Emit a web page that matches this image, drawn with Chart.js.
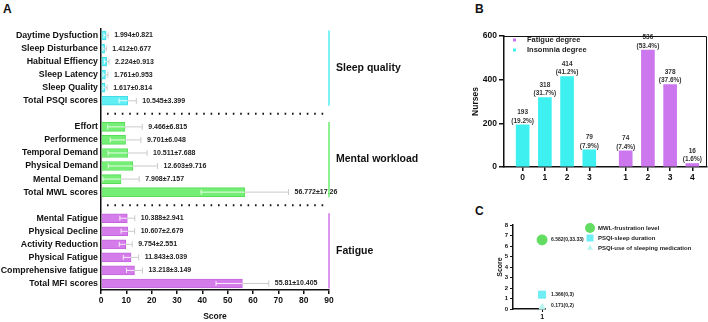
<!DOCTYPE html>
<html>
<head>
<meta charset="utf-8">
<script src="https://cdn.jsdelivr.net/npm/chart.js@4.4.1/dist/chart.umd.min.js"></script>
<style>
  body { margin: 0; width: 708px; height: 322px; position: relative; background: #fff; overflow: hidden;
         font-family: "Liberation Sans", Arial, sans-serif; }
  canvas { position: absolute; }
  .tag { position: absolute; font-weight: bold; font-size: 12px; line-height: 12px; color: #111; }
</style>
</head>
<body>
<div class="tag" style="left:3px;top:3px">A</div>
<div class="tag" style="left:475px;top:3px">B</div>
<div class="tag" style="left:475px;top:205px">C</div>
<canvas id="chartA" width="430" height="322" style="left:0;top:0"></canvas>
<canvas id="chartB" width="268" height="200" style="left:440px;top:0"></canvas>
<canvas id="chartC" width="248" height="112" style="left:460px;top:210px"></canvas>
<script>
// ---- panel A: scale scores (mean ± sd) ----
const sleepItems = ['Daytime Dysfuction', 'Sleep Disturbance', 'Habitual Effiency', 'Sleep Latency', 'Sleep Quality', 'Total PSQI scores'];
const sleepMeans = [1.994, 1.412, 2.224, 1.761, 1.617, 10.545];
const sleepSds = [0.821, 0.677, 0.913, 0.953, 0.814, 3.399];

const workloadItems = ['Effort', 'Performence', 'Temporal Demand', 'Physical Demand', 'Mental Demand', 'Total MWL scores'];
const workloadMeans = [9.466, 9.701, 10.511, 12.603, 7.908, 56.772];
const workloadSds = [6.815, 6.048, 7.688, 9.716, 7.157, 17.26];

const fatigueItems = ['Mental Fatigue', 'Physical Decline', 'Activity Reduction', 'Physical Fatigue', 'Comprehensive fatigue', 'Total MFI scores'];
const fatigueMeans = [10.388, 10.607, 9.754, 11.843, 13.218, 55.81];
const fatigueSds = [2.941, 2.679, 2.551, 3.039, 3.149, 10.405];

const groupNames = ['Sleep quality', 'Mental workload', 'Fatigue'];
const scoreTicksMax = 90;

// ---- panel B: degree counts ----
const insomniaDegrees = ['0', '1', '2', '3'];
const insomniaCounts = [193, 318, 414, 79];
const insomniaPct = ['19.2%', '31.7%', '41.2%', '7.9%'];
const fatigueDegrees = ['1', '2', '3', '4'];
const fatigueCounts = [74, 536, 378, 16];
const fatiguePct = ['7.4%', '53.4%', '37.6%', '1.6%'];

// ---- panel C: single item scores ----
const itemNames = ['MWL-frustration level', 'PSQI-sleep duration', 'PSQI-use of sleeping medication'];
const itemScores = [6.582, 1.366, 0.171];
const itemRanges = ['(0,33.33)', '(0,3)', '(0,2)'];

const FONT = "'Liberation Sans', Arial, sans-serif";
Chart.defaults.font.family = FONT;
Chart.defaults.color = '#111';

const cyan = '#5eeef4', green = '#74ee74', violet = '#d47ce9';
const groupColors = [cyan, green, violet];
const groupBorders = ['#40dde6', '#58dd58', '#c464dd'];

// rows with one empty slot between groups
const rowLabels = [...sleepItems, '', ...workloadItems, '', ...fatigueItems];
const rowMeans = [...sleepMeans, null, ...workloadMeans, null, ...fatigueMeans];
const rowSds = [...sleepSds, null, ...workloadSds, null, ...fatigueSds];
const rowGroup = [...sleepItems.map(() => 0), -1, ...workloadItems.map(() => 1), -1, ...fatigueItems.map(() => 2)];

const panelAExtras = {
  id: 'panelAExtras',
  afterDatasetsDraw(chart) {
    const { ctx, chartArea, scales: { x, y } } = chart;
    ctx.save();
    rowMeans.forEach((m, i) => {
      const py = y.getPixelForValue(i);
      if (m === null) {
        ctx.strokeStyle = '#111';
        ctx.lineWidth = 2;
        ctx.setLineDash([1.6, 5.8]);
        ctx.beginPath();
        ctx.moveTo(chartArea.left + 6, py);
        ctx.lineTo(chartArea.right, py);
        ctx.stroke();
        ctx.setLineDash([]);
        return;
      }
      const sd = rowSds[i];
      const xb = x.getPixelForValue(m);
      const x0 = x.getPixelForValue(Math.max(m - sd, 0));
      const x1 = x.getPixelForValue(m + sd);
      ctx.lineWidth = 1;
      ctx.strokeStyle = 'rgba(255,255,255,0.85)';
      ctx.beginPath();
      ctx.moveTo(x0, py); ctx.lineTo(xb, py);
      if (m - sd > 0) { ctx.moveTo(x0, py - 2.5); ctx.lineTo(x0, py + 2.5); }
      ctx.stroke();
      ctx.strokeStyle = '#cacaca';
      ctx.beginPath();
      ctx.moveTo(xb, py); ctx.lineTo(x1, py);
      ctx.moveTo(x1, py - 3); ctx.lineTo(x1, py + 3);
      ctx.stroke();
      ctx.fillStyle = '#222';
      ctx.font = 'bold 7px ' + FONT;
      ctx.textBaseline = 'middle';
      ctx.textAlign = 'left';
      ctx.fillText(`${m}±${sd}`, x1 + 6, py);
    });
    groupNames.forEach((name, g) => {
      const idx = rowGroup.map((v, i) => (v === g ? i : -1)).filter((i) => i >= 0);
      const top = y.getPixelForValue(idx[0]) - 5;
      const bot = y.getPixelForValue(idx[idx.length - 1]) + 5;
      ctx.strokeStyle = groupColors[g];
      ctx.lineWidth = 1.6;
      ctx.beginPath();
      ctx.moveTo(chartArea.right, top);
      ctx.lineTo(chartArea.right, bot);
      ctx.stroke();
      ctx.fillStyle = '#111';
      ctx.font = 'bold 10.5px ' + FONT;
      ctx.textBaseline = 'middle';
      ctx.fillText(name, chartArea.right + 7, (top + bot) / 2);
    });
    ctx.restore();
  }
};

new Chart(document.getElementById('chartA'), {
  type: 'bar',
  data: {
    labels: rowLabels,
    datasets: [{
      data: rowMeans,
      backgroundColor: rowGroup.map((g) => (g < 0 ? 'transparent' : groupColors[g])),
      borderColor: rowGroup.map((g) => (g < 0 ? 'transparent' : groupBorders[g])),
      borderWidth: 1,
      barThickness: 9
    }]
  },
  options: {
    indexAxis: 'y',
    responsive: false,
    animation: false,
    layout: { padding: { top: 29, right: 101, left: 0, bottom: 0 } },
    plugins: { legend: { display: false }, tooltip: { enabled: false } },
    scales: {
      x: {
        min: 0,
        max: scoreTicksMax,
        ticks: { stepSize: 10, font: { size: 8.5, weight: 'bold' }, color: '#111', padding: 2 },
        grid: { display: true, drawOnChartArea: false, drawTicks: true, tickLength: 4, color: '#111', lineWidth: 1.5 },
        border: { display: true, color: '#111', width: 1.5 },
        title: { display: true, text: 'Score', font: { size: 8.5, weight: 'bold' }, color: '#111', padding: { top: 0, bottom: 0 } },
        afterFit(s) { s.height = 32; }
      },
      y: {
        grid: { display: false, drawTicks: false },
        border: { display: true, color: '#111', width: 1.5 },
        ticks: { font: { size: 8.8, weight: 'bold' }, color: '#111', padding: 3, autoSkip: false },
        afterFit(s) { s.width = 101; }
      }
    }
  },
  plugins: [panelAExtras]
});

// ---- panel B ----
const insomniaX = [0, 1, 2, 3];
const fatigueX = [4.64, 5.64, 6.64, 7.64];
const bTickPositions = [...insomniaX, ...fatigueX];
const bTickLabels = [...insomniaDegrees, ...fatigueDegrees];

const panelBExtras = {
  id: 'panelBExtras',
  afterDatasetsDraw(chart) {
    const { ctx, chartArea } = chart;
    ctx.save();
    const pctLists = [fatiguePct, insomniaPct];
    chart.data.datasets.forEach((ds, d) => {
      chart.getDatasetMeta(d).data.forEach((el, j) => {
        ctx.fillStyle = '#333';
        ctx.font = '600 6.5px ' + FONT;
        ctx.textAlign = 'center';
        ctx.textBaseline = 'middle';
        ctx.fillText(String(ds.data[j].y), el.x, el.y - 12.5);
        ctx.fillText('(' + pctLists[d][j] + ')', el.x, el.y - 4);
      });
    });
    // box around plot
    ctx.strokeStyle = '#111';
    ctx.lineWidth = 1;
    ctx.beginPath();
    ctx.moveTo(chartArea.left, chartArea.top + 0.5);
    ctx.lineTo(chartArea.right - 0.5, chartArea.top + 0.5);
    ctx.lineTo(chartArea.right - 0.5, chartArea.bottom);
    ctx.stroke();
    // legend
    chart.data.datasets.forEach((ds, d) => {
      const ly = chartArea.top + 4 + d * 10;
      ctx.fillStyle = ds.backgroundColor;
      ctx.fillRect(chartArea.left + 9, ly - 1.5, 3, 3);
      ctx.fillStyle = '#222';
      ctx.font = 'bold 7.5px ' + FONT;
      ctx.textAlign = 'left';
      ctx.textBaseline = 'middle';
      ctx.fillText(ds.label, chartArea.left + 23, ly);
    });
    ctx.restore();
  }
};

new Chart(document.getElementById('chartB'), {
  type: 'bar',
  data: {
    datasets: [
      { label: 'Fatigue degree', data: fatigueX.map((x, i) => ({ x, y: fatigueCounts[i] })), backgroundColor: '#cc77ee', barThickness: 13, grouped: false },
      { label: 'Insomnia degree', data: insomniaX.map((x, i) => ({ x, y: insomniaCounts[i] })), backgroundColor: '#3ff0f0', barThickness: 13, grouped: false }
    ]
  },
  options: {
    responsive: false,
    animation: false,
    layout: { padding: { top: 36, right: 1, left: 0, bottom: 0 } },
    plugins: { legend: { display: false }, tooltip: { enabled: false } },
    scales: {
      x: {
        type: 'linear',
        min: -0.84,
        max: 8.3,
        offset: false,
        afterBuildTicks(s) { s.ticks = bTickPositions.map((v) => ({ value: v })); },
        ticks: { callback: (v, i) => bTickLabels[i], font: { size: 8.5, weight: 'bold' }, color: '#111', padding: 2, autoSkip: false, maxRotation: 0 },
        grid: { display: true, offset: false, drawOnChartArea: false, tickLength: 4, color: '#111', lineWidth: 1.5 },
        border: { display: true, color: '#111', width: 1.5 },
        afterFit(s) { s.height = 33; }
      },
      y: {
        min: 0,
        max: 600,
        ticks: { stepSize: 200, font: { size: 8.5, weight: 'bold' }, color: '#111', padding: 2 },
        grid: { display: true, drawOnChartArea: false, tickLength: 5, color: '#111', lineWidth: 1.5 },
        border: { display: true, color: '#111', width: 1.5 },
        title: { display: true, text: 'Nurses', font: { size: 8.5, weight: 'bold' }, color: '#111', padding: { top: 31, bottom: 0 } },
        afterFit(s) { s.width = 64; }
      }
    }
  },
  plugins: [panelBExtras]
});

// ---- panel C ----
const cColors = ['#62dd62', '#6eeef4', '#b8f4f0'];
const cStyles = ['circle', 'rect', 'triangle'];
const cRadius = [5, 5, 3.5];

function drawMarker(ctx, style, x, y, r, color) {
  ctx.fillStyle = color;
  ctx.beginPath();
  if (style === 'circle') ctx.arc(x, y, r, 0, Math.PI * 2);
  else if (style === 'rect') ctx.rect(x - r * 0.7, y - r * 0.7, r * 1.4, r * 1.4);
  else { ctx.moveTo(x, y - r); ctx.lineTo(x + r * 0.87, y + r * 0.5); ctx.lineTo(x - r * 0.87, y + r * 0.5); ctx.closePath(); }
  ctx.fill();
}

const panelCExtras = {
  id: 'panelCExtras',
  afterDatasetsDraw(chart) {
    const { ctx, chartArea } = chart;
    ctx.save();
    chart.data.datasets.forEach((ds, d) => {
      const el = chart.getDatasetMeta(d).data[0];
      ctx.fillStyle = '#222';
      ctx.font = 'bold 5px ' + FONT;
      ctx.textAlign = 'left';
      ctx.textBaseline = 'middle';
      ctx.fillText(itemScores[d] + itemRanges[d], el.x + 9, el.y - (d === 2 ? 1.5 : 0));
      const ly = chartArea.top + 3 + d * 10;
      drawMarker(ctx, cStyles[d], chartArea.right + 45, ly, cRadius[d], cColors[d]);
      ctx.fillStyle = '#222';
      ctx.font = 'bold 6px ' + FONT;
      ctx.fillText(ds.label, chartArea.right + 53, ly);
    });
    ctx.restore();
  }
};

new Chart(document.getElementById('chartC'), {
  type: 'scatter',
  data: {
    datasets: itemNames.map((name, i) => ({
      label: name,
      data: [{ x: 1, y: itemScores[i] }],
      pointStyle: cStyles[i],
      pointRadius: cRadius[i],
      backgroundColor: cColors[i],
      borderColor: cColors[i],
      clip: false
    }))
  },
  options: {
    responsive: false,
    animation: false,
    layout: { padding: { top: 15, right: 163, left: 0, bottom: 0 } },
    plugins: { legend: { display: false }, tooltip: { enabled: false } },
    scales: {
      x: {
        type: 'linear',
        min: 0,
        max: 1.1,
        afterBuildTicks(s) { s.ticks = [{ value: 1 }]; },
        ticks: { font: { size: 7, weight: 'bold' }, color: '#111', padding: 1 },
        grid: { display: true, drawOnChartArea: false, tickLength: 3, color: '#111', lineWidth: 1 },
        border: { display: true, color: '#111', width: 1.5 },
        afterFit(s) { s.height = 13; }
      },
      y: {
        min: 0,
        max: 8,
        ticks: { stepSize: 1, font: { size: 6, weight: 'bold' }, color: '#111', padding: 2 },
        grid: { display: true, drawOnChartArea: false, tickLength: 3, color: '#111', lineWidth: 1 },
        border: { display: true, color: '#111', width: 1.5 },
        title: { display: true, text: 'Score', font: { size: 7, weight: 'bold' }, color: '#111', padding: { top: 36, bottom: 0 } },
        afterFit(s) { s.width = 53; }
      }
    }
  },
  plugins: [panelCExtras]
});
</script>
</body>
</html>
